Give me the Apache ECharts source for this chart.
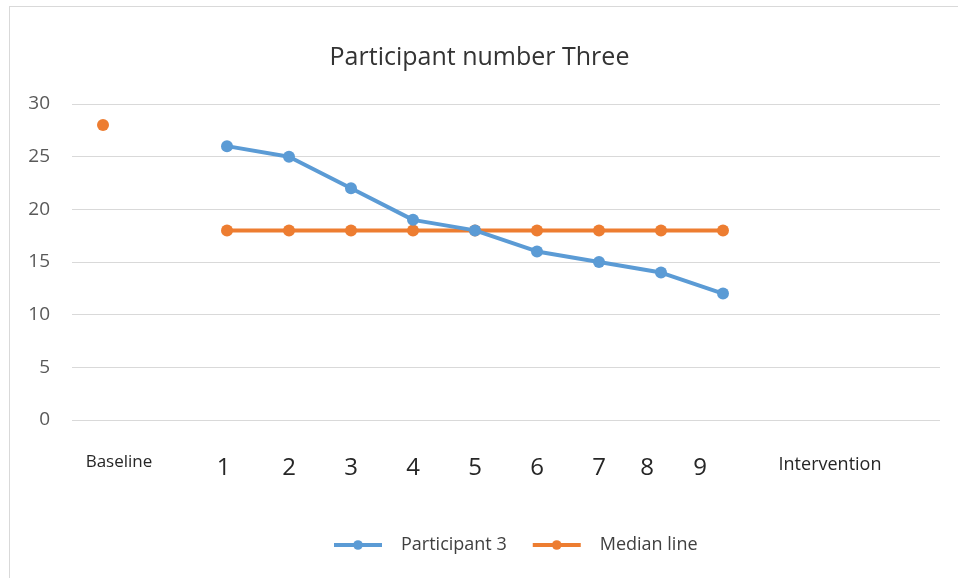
<!DOCTYPE html>
<html>
<head>
<meta charset="utf-8">
<script src="https://cdn.jsdelivr.net/npm/echarts@6/dist/echarts.min.js"></script>
<style>
html,body{margin:0;padding:0;background:#fff;}
#c{width:959px;height:581px;}
#frame{position:absolute;left:9px;top:6px;width:948px;height:571px;border:1px solid #d9d9d9;border-right:none;border-bottom:none;pointer-events:none;}
</style>
</head>
<body>
<div id="c"></div>
<div id="frame"></div>
<script>
var categories = ['Baseline', '', '1', '2', '3', '4', '5', '6', '7', '8', '9', '', 'Intervention', ''];
var participant3 = [null, null, 26, 25, 22, 19, 18, 16, 15, 14, 12, null, null, null];
var medianLine = [28, null, 18, 18, 18, 18, 18, 18, 18, 18, 18, null, null, null];
var yTicks = { min: 0, max: 30, interval: 5 };

var FONT = 'Open Sans';
var chart = echarts.init(document.getElementById('c'));
chart.setOption({
  animation: false,
  title: {
    text: 'Participant number Three',
    left: 'center',
    top: 40,
    textStyle: { fontFamily: FONT, fontSize: 25, fontWeight: 'normal', color: '#333333' }
  },
  grid: { left: 72, right: 19, top: 104, bottom: 161, containLabel: false },
  legend: {
    top: 531,
    left: 327,
    itemWidth: 48,
    itemHeight: 12,
    itemGap: 24,
    lineStyle: { width: 4 },
    textStyle: { fontFamily: FONT, fontSize: 18, color: '#404040', padding: [0, 0, 0, 14] },
    data: ['Participant 3', 'Median line']
  },
  xAxis: {
    type: 'category',
    data: categories,
    boundaryGap: true,
    axisLine: { show: false },
    axisTick: { show: false },
    axisLabel: {
      interval: 0,
      margin: 32,
      formatter: function (v) {
        if (v === '') return '';
        if (v === 'Baseline') return '{base|' + v + '}';
        if (v === 'Intervention') return '{inter|' + v + '}';
        if (v === '8') return '{n8|' + v + '}';
        if (v === '9') return '{n9|' + v + '}';
        if (v === '1') return '{n1|' + v + '}';
        return '{num|' + v + '}';
      },
      rich: {
        base: { fontFamily: FONT, fontSize: 17, lineHeight: 20, color: '#262626', padding: [0, 0, 0, 32] },
        num: { fontFamily: FONT, fontSize: 24, lineHeight: 26, color: '#262626', padding: [7, 0, 0, 0] },
        n1: { fontFamily: FONT, fontSize: 24, lineHeight: 26, color: '#262626', padding: [7, 7, 0, 0] },
        n8: { fontFamily: FONT, fontSize: 24, lineHeight: 26, color: '#262626', padding: [7, 28, 0, 0] },
        n9: { fontFamily: FONT, fontSize: 24, lineHeight: 26, color: '#262626', padding: [7, 46, 0, 0] },
        inter: { fontFamily: FONT, fontSize: 18, lineHeight: 20, color: '#262626', padding: [6, 34, 0, 0] }
      }
    }
  },
  yAxis: {
    type: 'value',
    min: yTicks.min,
    max: yTicks.max,
    interval: yTicks.interval,
    axisLine: { show: false },
    axisTick: { show: false },
    axisLabel: { fontFamily: FONT, fontSize: 19, color: '#595959', margin: 22 },
    splitLine: { lineStyle: { color: '#d9d9d9', width: 1 } }
  },
  series: [
    {
      name: 'Participant 3',
      type: 'line',
      data: participant3,
      symbol: 'circle',
      symbolSize: 12,
      connectNulls: false,
      lineStyle: { color: '#5B9BD5', width: 4 },
      itemStyle: { color: '#5B9BD5' },
      z: 3
    },
    {
      name: 'Median line',
      type: 'line',
      data: medianLine,
      symbol: 'circle',
      symbolSize: 12,
      connectNulls: false,
      lineStyle: { color: '#ED7D31', width: 4 },
      itemStyle: { color: '#ED7D31' },
      z: 2
    }
  ]
});
</script>
</body>
</html>
